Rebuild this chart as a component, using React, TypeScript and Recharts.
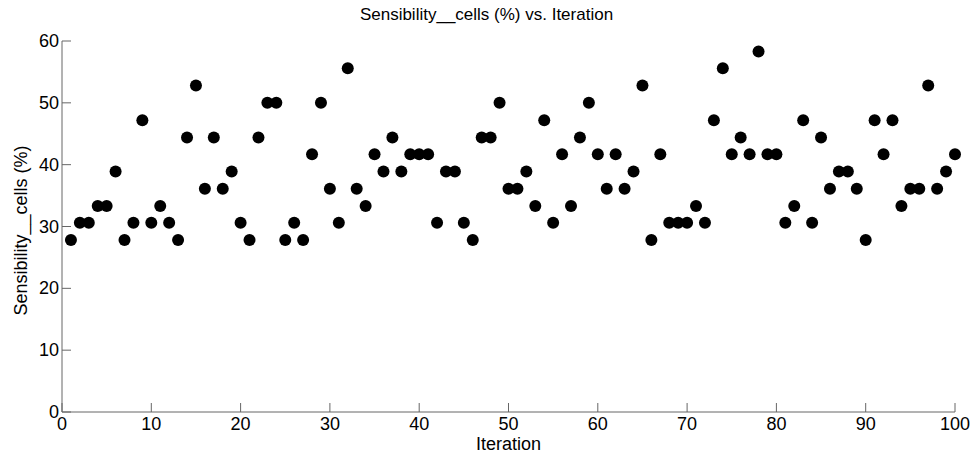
import React from "react";
import { ScatterChart, Scatter, XAxis, YAxis, Label } from "recharts";

const iterations: number[] = Array.from({ length: 100 }, (_, i) => i + 1);

// Sensibility of cells in % (steps of 100/36)
const sensibility: number[] = [
  27.8, 30.6, 30.6, 33.3, 33.3, 38.9, 27.8, 30.6, 47.2, 30.6,
  33.3, 30.6, 27.8, 44.4, 52.8, 36.1, 44.4, 36.1, 38.9, 30.6,
  27.8, 44.4, 50.0, 50.0, 27.8, 30.6, 27.8, 41.7, 50.0, 36.1,
  30.6, 55.6, 36.1, 33.3, 41.7, 38.9, 44.4, 38.9, 41.7, 41.7,
  41.7, 30.6, 38.9, 38.9, 30.6, 27.8, 44.4, 44.4, 50.0, 36.1,
  36.1, 38.9, 33.3, 47.2, 30.6, 41.7, 33.3, 44.4, 50.0, 41.7,
  36.1, 41.7, 36.1, 38.9, 52.8, 27.8, 41.7, 30.6, 30.6, 30.6,
  33.3, 30.6, 47.2, 55.6, 41.7, 44.4, 41.7, 58.3, 41.7, 41.7,
  30.6, 33.3, 47.2, 30.6, 44.4, 36.1, 38.9, 38.9, 36.1, 27.8,
  47.2, 41.7, 47.2, 33.3, 36.1, 36.1, 52.8, 36.1, 38.9, 41.7,
];

const xTicks = [0, 10, 20, 30, 40, 50, 60, 70, 80, 90, 100];
const yTicks = [0, 10, 20, 30, 40, 50, 60];

const data = iterations.map((it, i) => ({ iteration: it, value: sensibility[i] }));

const AXIS = "#666666";
const FONT = "'Liberation Sans', Arial, sans-serif";

const XTick = (props: any) => {
  const { x, y, payload } = props;
  return (
    <g>
      <line x1={x} x2={x} y1={y} y2={y - 9} stroke={AXIS} />
      <text x={x} y={y + 18} textAnchor="middle" fontSize={18} fontFamily={FONT} fill="#000">
        {payload.value}
      </text>
    </g>
  );
};

const YTick = (props: any) => {
  const { x, y, payload } = props;
  return (
    <g>
      <line x1={x} x2={x + 9} y1={y} y2={y} stroke={AXIS} />
      <text x={x - 3} y={y + 6} textAnchor="end" fontSize={18} fontFamily={FONT} fill="#000">
        {payload.value}
      </text>
    </g>
  );
};

const Dot = (props: any) => <circle cx={props.cx} cy={props.cy} r={6} fill="#000" />;

export default function App() {
  return (
    <div style={{ position: "absolute", left: 0, top: 0, width: 973, height: 457, background: "#fff" }}>
      <div
        style={{
          position: "absolute",
          top: 6,
          left: 0,
          width: 973,
          textAlign: "center",
          fontFamily: FONT,
          fontSize: 17,
          lineHeight: "17px",
          color: "#000",
        }}
      >
        Sensibility__cells (%) vs. Iteration
      </div>
      <ScatterChart width={973} height={457} margin={{ top: 41, right: 18, bottom: 0, left: 0 }}>
        <XAxis
          type="number"
          dataKey="iteration"
          domain={[0, 100]}
          ticks={xTicks}
          interval={0}
          height={45}
          tickSize={0}
          tickMargin={0}
          axisLine={{ stroke: AXIS }}
          tick={<XTick />}
        >
          <Label
            content={(p: any) => (
              <text
                x={p.viewBox.x + p.viewBox.width / 2}
                y={p.viewBox.y + 38}
                textAnchor="middle"
                fontSize={18}
                fontFamily={FONT}
                fill="#000"
              >
                Iteration
              </text>
            )}
          />
        </XAxis>
        <YAxis
          type="number"
          dataKey="value"
          domain={[0, 60]}
          ticks={yTicks}
          interval={0}
          width={62}
          tickSize={0}
          tickMargin={0}
          axisLine={{ stroke: AXIS }}
          tick={<YTick />}
        >
          <Label
            content={(p: any) => {
              const cx = 21;
              const cy = p.viewBox.y + p.viewBox.height / 2 + 4;
              return (
                <text
                  x={cx}
                  y={cy}
                  transform={`rotate(-90 ${cx} ${cy})`}
                  textAnchor="middle"
                  dominantBaseline="central"
                  fontSize={18}
                  fontFamily={FONT}
                  fill="#000"
                >
                  Sensibility__cells (%)
                </text>
              );
            }}
          />
        </YAxis>
        <Scatter data={data} shape={<Dot />} isAnimationActive={false} />
      </ScatterChart>
    </div>
  );
}
